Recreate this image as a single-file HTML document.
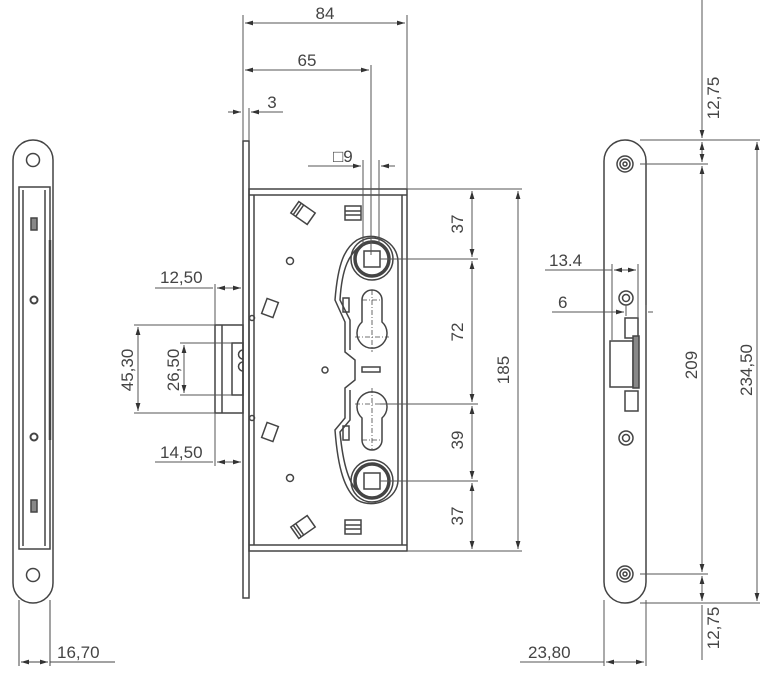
<!DOCTYPE html>
<html><head><meta charset="utf-8"><style>
html,body{margin:0;padding:0;background:#fff}
svg{display:block}
text{font-family:"Liberation Sans",sans-serif;font-size:17px;fill:#444}
</style></head><body>
<svg width="768" height="676" viewBox="0 0 768 676" xmlns="http://www.w3.org/2000/svg">
<defs>
<marker id="a" viewBox="0 0 10 6" refX="10" refY="3" markerWidth="8" markerHeight="5" orient="auto-start-reverse"><path d="M0,0L10,3L0,6z" fill="#333"/></marker>
</defs>
<g fill="none" stroke="#444" stroke-width="1.5">
<path d="M13,160 A20,20 0 0 1 53,160 L53,583 A20,20 0 0 1 13,583 Z"/>
<circle cx="33" cy="160" r="6.5"/><circle cx="33" cy="575" r="6.5"/>
<rect x="19" y="187" width="31" height="362"/>
<line x1="23" y1="190" x2="23" y2="546"/>
<line x1="45" y1="190" x2="45" y2="546"/>
<line x1="50" y1="240" x2="50" y2="440" stroke-width="2.5"/>
<circle cx="34" cy="300" r="3.5" stroke-width="2"/><circle cx="34" cy="437" r="3.5" stroke-width="2"/>
<rect x="31" y="218" width="6" height="12" fill="#888"/><rect x="31" y="500" width="6" height="12" fill="#888"/>
<line x1="19" y1="600" x2="19" y2="666" stroke-width="1"/>
<line x1="50" y1="600" x2="50" y2="666" stroke-width="1"/>
<line x1="21" y1="662" x2="48" y2="662" stroke-width="1" marker-start="url(#a)" marker-end="url(#a)"/>
<line x1="50" y1="662" x2="115" y2="662" stroke-width="1"/>

<rect x="243" y="141" width="6" height="457"/>
<rect x="249" y="189" width="158" height="362"/>
<line x1="249" y1="195" x2="407" y2="195"/>
<line x1="249" y1="545" x2="407" y2="545"/>
<line x1="254" y1="195" x2="254" y2="545"/>
<line x1="402" y1="195" x2="402" y2="545"/>
<rect x="215" y="325" width="28" height="88"/>
<line x1="222" y1="325" x2="222" y2="413"/>
<rect x="232" y="343" width="11" height="52"/>
<path d="M243,350 a4,4 0 0 0 0,9 M243,362 a4,4 0 0 0 0,9"/>
<circle cx="290" cy="261" r="3.5"/><circle cx="290" cy="478" r="3.5"/><circle cx="325" cy="370" r="3"/>
<circle cx="252" cy="318" r="2.5"/><circle cx="252" cy="418" r="2.5"/>
<g transform="rotate(35 303 213)"><rect x="293" y="206" width="20" height="14"/><line x1="299" y1="206" x2="299" y2="220"/><line x1="296" y1="206" x2="296" y2="220"/></g>
<g transform="rotate(-35 303 527)"><rect x="293" y="520" width="20" height="14"/><line x1="299" y1="520" x2="299" y2="534"/><line x1="296" y1="520" x2="296" y2="534"/></g>
<g transform="rotate(20 270 308)"><rect x="264" y="300" width="12" height="16"/></g>
<g transform="rotate(20 270 432)"><rect x="264" y="424" width="12" height="16"/></g>
<rect x="345" y="206" width="16" height="14"/><line x1="345" y1="211" x2="361" y2="211"/><line x1="345" y1="215" x2="361" y2="215"/>
<rect x="345" y="520" width="16" height="14"/><line x1="345" y1="525" x2="361" y2="525"/><line x1="345" y1="529" x2="361" y2="529"/>
<path d="M357,240 C345,248 338,262 335,300 L345,322 L345,352 L355,360 L355,380 L345,388 L345,418 L335,430 C338,470 345,490 357,500 C375,510 398,498 398,480 L398,262 C398,242 375,230 357,240 Z"/>
<path d="M360,246 C350,254 342,266 340,300 L350,320 L350,350 M350,390 L350,420 L340,432 C343,466 350,486 360,494"/>
<circle cx="372" cy="259" r="17" stroke-width="3.5"/><circle cx="372" cy="259" r="21"/>
<rect x="364" y="251" width="16" height="16"/>
<circle cx="372" cy="481" r="17" stroke-width="3.5"/><circle cx="372" cy="481" r="21"/>
<rect x="364" y="473" width="16" height="16"/>
<path d="M362,300 a10,10 0 0 1 20,0 L382,322 a15,15 0 1 1 -20,0 Z"/>
<path d="M362,440 a10,10 0 0 0 20,0 L382,418 a15,15 0 1 0 -20,0 Z"/>
<rect x="343" y="298" width="6" height="14"/><rect x="343" y="426" width="6" height="14"/>
<rect x="362" y="367" width="18" height="5"/>
<g stroke-dasharray="5,2,1,2" stroke-width="0.8">
<line x1="372" y1="290" x2="372" y2="352"/><line x1="355" y1="337" x2="389" y2="337"/><line x1="362" y1="300" x2="382" y2="300"/>
<line x1="372" y1="388" x2="372" y2="450"/><line x1="355" y1="404" x2="389" y2="404"/><line x1="362" y1="440" x2="382" y2="440"/>
</g>
</g>
<g fill="none" stroke="#555" stroke-width="1">
<line x1="243" y1="15" x2="243" y2="141"/><line x1="407" y1="15" x2="407" y2="189"/>
<line x1="245" y1="23" x2="405" y2="23" marker-start="url(#a)" marker-end="url(#a)"/>
<line x1="371" y1="65" x2="371" y2="255"/>
<line x1="245" y1="70" x2="369" y2="70" marker-start="url(#a)" marker-end="url(#a)"/>
<line x1="249" y1="108" x2="249" y2="141"/>
<line x1="228" y1="112" x2="241" y2="112" marker-end="url(#a)"/>
<line x1="251" y1="112" x2="283" y2="112" marker-start="url(#a)"/>
<line x1="363" y1="160" x2="363" y2="245"/><line x1="379" y1="160" x2="379" y2="245"/>
<line x1="308" y1="166" x2="361" y2="166" marker-end="url(#a)"/>
<line x1="381" y1="166" x2="395" y2="166" marker-start="url(#a)"/>
<line x1="407" y1="189" x2="522" y2="189"/><line x1="407" y1="551" x2="522" y2="551"/>
<line x1="380" y1="259" x2="478" y2="259"/><line x1="380" y1="404" x2="478" y2="404"/><line x1="380" y1="481" x2="478" y2="481"/>
<line x1="472" y1="191" x2="472" y2="257" marker-start="url(#a)" marker-end="url(#a)"/>
<line x1="472" y1="261" x2="472" y2="402" marker-start="url(#a)" marker-end="url(#a)"/>
<line x1="472" y1="406" x2="472" y2="479" marker-start="url(#a)" marker-end="url(#a)"/>
<line x1="472" y1="483" x2="472" y2="549" marker-start="url(#a)" marker-end="url(#a)"/>
<line x1="518" y1="191" x2="518" y2="549" marker-start="url(#a)" marker-end="url(#a)"/>
<line x1="215" y1="284" x2="215" y2="325"/><line x1="215" y1="413" x2="215" y2="466"/>
<line x1="155" y1="288" x2="213" y2="288"/><line x1="217" y1="288" x2="241" y2="288" marker-start="url(#a)" marker-end="url(#a)"/>
<line x1="155" y1="462" x2="213" y2="462"/><line x1="217" y1="462" x2="241" y2="462" marker-start="url(#a)" marker-end="url(#a)"/>
<line x1="134" y1="325" x2="215" y2="325"/><line x1="134" y1="413" x2="215" y2="413"/>
<line x1="180" y1="343" x2="232" y2="343"/><line x1="180" y1="395" x2="232" y2="395"/>
<line x1="138" y1="327" x2="138" y2="411" marker-start="url(#a)" marker-end="url(#a)"/>
<line x1="184" y1="345" x2="184" y2="393" marker-start="url(#a)" marker-end="url(#a)"/>
</g>
<g fill="none" stroke="#444" stroke-width="1.5">
<path d="M604,161 A21,21 0 0 1 646,161 L646,582 A21,21 0 0 1 604,582 Z"/>
<circle cx="625" cy="164" r="8"/><circle cx="625" cy="164" r="5"/><circle cx="625" cy="164" r="2"/>
<circle cx="625" cy="574" r="8"/><circle cx="625" cy="574" r="5"/><circle cx="625" cy="574" r="2"/>
<circle cx="626" cy="298" r="7"/><circle cx="626" cy="298" r="3.5"/>
<circle cx="626" cy="438" r="7"/><circle cx="626" cy="438" r="3.5"/>
<rect x="625" y="318" width="13" height="20"/>
<rect x="610" y="341" width="23" height="46"/>
<rect x="633" y="336" width="6" height="52" fill="#888"/>
<rect x="625" y="391" width="13" height="20"/>
</g>
<g fill="none" stroke="#555" stroke-width="1">
<line x1="702" y1="0" x2="702" y2="138" marker-end="url(#a)"/>
<line x1="640" y1="140" x2="760" y2="140"/>
<line x1="640" y1="164" x2="708" y2="164"/>
<line x1="702" y1="142" x2="702" y2="162" marker-start="url(#a)" marker-end="url(#a)"/>
<line x1="702" y1="166" x2="702" y2="572" marker-start="url(#a)" marker-end="url(#a)"/>
<line x1="640" y1="574" x2="708" y2="574"/>
<line x1="640" y1="603" x2="760" y2="603"/>
<line x1="702" y1="576" x2="702" y2="601" marker-start="url(#a)" marker-end="url(#a)"/>
<line x1="702" y1="605" x2="702" y2="660"/>
<line x1="757" y1="142" x2="757" y2="601" marker-start="url(#a)" marker-end="url(#a)"/>
<line x1="612" y1="264" x2="612" y2="340"/><line x1="638" y1="264" x2="638" y2="318"/>
<line x1="545" y1="270" x2="612" y2="270"/>
<line x1="614" y1="270" x2="636" y2="270" marker-start="url(#a)" marker-end="url(#a)"/>
<line x1="626" y1="305" x2="626" y2="316"/><line x1="646" y1="305" x2="646" y2="320"/>
<line x1="552" y1="312" x2="624" y2="312" marker-end="url(#a)"/>
<line x1="648" y1="312" x2="653" y2="312"/>
<line x1="604" y1="600" x2="604" y2="666"/><line x1="646" y1="600" x2="646" y2="666"/>
<line x1="520" y1="662" x2="604" y2="662"/>
<line x1="606" y1="662" x2="644" y2="662" marker-start="url(#a)" marker-end="url(#a)"/>
</g>
<text x="57" y="658">16,70</text>
<text x="325" y="19" text-anchor="middle">84</text>
<text x="307" y="66" text-anchor="middle">65</text>
<text x="272" y="108" text-anchor="middle">3</text>
<text x="333" y="162">□9</text>
<text x="160" y="283">12,50</text>
<text x="160" y="458">14,50</text>
<text transform="translate(133,370) rotate(-90)" text-anchor="middle">45,30</text>
<text transform="translate(179,370) rotate(-90)" text-anchor="middle">26,50</text>
<text transform="translate(463,224) rotate(-90)" text-anchor="middle">37</text>
<text transform="translate(463,332) rotate(-90)" text-anchor="middle">72</text>
<text transform="translate(463,440) rotate(-90)" text-anchor="middle">39</text>
<text transform="translate(463,516) rotate(-90)" text-anchor="middle">37</text>
<text transform="translate(509,370) rotate(-90)" text-anchor="middle">185</text>
<text x="549" y="266">13.4</text>
<text x="558" y="308">6</text>
<text transform="translate(697,365) rotate(-90)" text-anchor="middle">209</text>
<text transform="translate(752,370) rotate(-90)" text-anchor="middle">234,50</text>
<text transform="translate(719,98) rotate(-90)" text-anchor="middle">12,75</text>
<text transform="translate(719,628) rotate(-90)" text-anchor="middle">12,75</text>
<text x="528" y="658">23,80</text>
</svg>
</body></html>
